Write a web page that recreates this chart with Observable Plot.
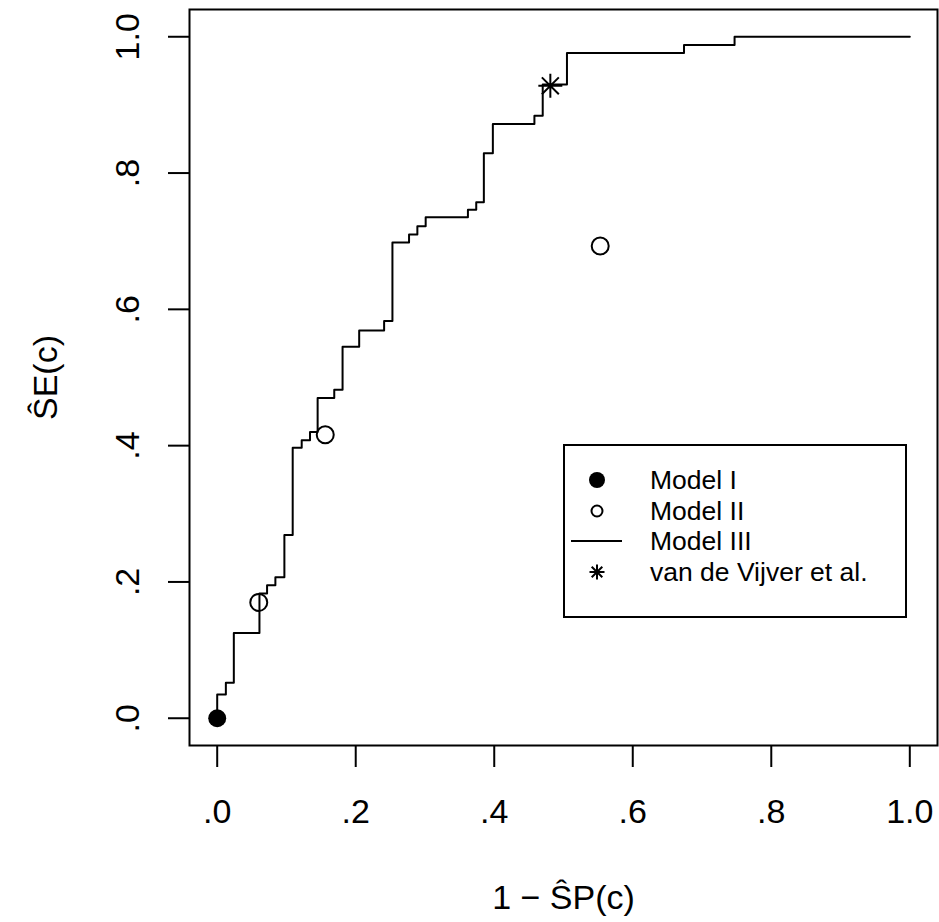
<!DOCTYPE html>
<html>
<head>
<meta charset="utf-8">
<script src="https://cdn.jsdelivr.net/npm/d3@7"></script>
<script src="https://cdn.jsdelivr.net/npm/@observablehq/plot@0.6"></script>
<style>
  html, body { margin: 0; padding: 0; background: #fff; }
  body { font-family: "Liberation Sans", Arial, Helvetica, sans-serif; }
  #wrap { position: relative; width: 939px; height: 922px; }
  #legend { position: absolute; left: 563px; top: 444px; width: 344px; height: 174px;
            box-sizing: border-box; border: 2px solid #000; background: #fff; }
  .lrow { position: absolute; left: 0; height: 30px; width: 340px; }
  .lrow svg { position: absolute; left: 0; top: 0; overflow: visible; }
  .lrow .lab { position: absolute; display: block; left: 85px; top: 0; height: 30px; line-height: 30px;
               font-size: 26.5px; color: #000; white-space: nowrap; overflow: visible; }
</style>
</head>
<body>
<div id="wrap"></div>
<script>
// ---- data ----
const rocFPR = [0, 0, 0.0125, 0.024, 0.061, 0.072, 0.084, 0.097, 0.109, 0.122, 0.134, 0.145, 0.169, 0.181, 0.205, 0.241, 0.253, 0.277, 0.289, 0.301, 0.362, 0.374, 0.385, 0.398, 0.458, 0.470, 0.505, 0.674, 0.747, 1.0];
const rocTPR = [0, 0.035, 0.052, 0.125, 0.183, 0.195, 0.207, 0.269, 0.397, 0.408, 0.420, 0.470, 0.482, 0.545, 0.569, 0.583, 0.698, 0.710, 0.722, 0.735, 0.746, 0.757, 0.829, 0.872, 0.884, 0.930, 0.976, 0.988, 1.0, 1.0];
const model1FPR = [0];
const model1TPR = [0];
const model2FPR = [0.060, 0.156, 0.553];
const model2TPR = [0.170, 0.416, 0.693];
const vdvFPR = [0.481];
const vdvTPR = [0.928];
const tickValues = [0, 0.2, 0.4, 0.6, 0.8, 1.0];
const tickLabels = [".0", ".2", ".4", ".6", ".8", "1.0"];
const legendLabels = ["Model I", "Model II", "Model III", "van de Vijver et al."];
const xTitle = "1 \u2212 \u015CP(c)";
const yTitle = "\u015CE(c)";

// ---- build tables ----
const roc = rocFPR.map((x, i) => ({x, y: rocTPR[i]}));
const m1 = model1FPR.map((x, i) => ({x, y: model1TPR[i]}));
const m2 = model2FPR.map((x, i) => ({x, y: model2TPR[i]}));
const vdv = vdvFPR.map((x, i) => ({x, y: vdvTPR[i]}));
const fmt = d => tickLabels[tickValues.findIndex(t => Math.abs(t - d) < 1e-9)];

// R pch 8 : "+" overlaid with "x"
const pch8 = {
  draw(ctx, size) {
    const r = Math.sqrt(size / Math.PI);
    const d = r * Math.SQRT1_2;
    ctx.moveTo(-r, 0); ctx.lineTo(r, 0);
    ctx.moveTo(0, -r); ctx.lineTo(0, r);
    ctx.moveTo(-d, -d); ctx.lineTo(d, d);
    ctx.moveTo(-d, d); ctx.lineTo(d, -d);
  }
};

const font = "Liberation Sans, Arial, Helvetica, sans-serif";
const chart = Plot.plot({
  width: 939,
  height: 922,
  marginLeft: 189,
  marginRight: 2,
  marginTop: 9,
  marginBottom: 177,
  style: {fontFamily: font, fontSize: "34px", background: "white", color: "black"},
  x: {domain: [-0.04, 1.04]},
  y: {domain: [-0.04, 1.04]},
  marks: [
    Plot.axisX({ticks: tickValues, tickFormat: fmt, tickSize: 22, tickPadding: 31, strokeWidth: 2,
      fontSize: 34, label: xTitle, labelAnchor: "center", labelOffset: 163, labelArrow: "none"}),
    Plot.axisY({ticks: tickValues, tickFormat: fmt, tickSize: 21, tickPadding: 30, tickRotate: -90, strokeWidth: 2,
      fontSize: 34, label: yTitle, labelAnchor: "center", labelOffset: 157, labelArrow: "none"}),
    Plot.line(roc, {x: "x", y: "y", curve: "step-after", stroke: "black", strokeWidth: 2}),
    Plot.dot(m1, {x: "x", y: "y", r: 9, fill: "black", stroke: "none"}),
    Plot.dot(m2, {x: "x", y: "y", r: 8.5, fill: "none", stroke: "black", strokeWidth: 2}),
    Plot.dot(vdv, {x: "x", y: "y", r: 12, symbol: pch8, fill: "none", stroke: "black", strokeWidth: 2}),
    Plot.frame({stroke: "black", strokeWidth: 2})
  ]
});
const wrap = document.getElementById("wrap");
wrap.appendChild(chart);

// ---- legend (inside plot area, lower right) ----
const legend = document.createElement("div");
legend.id = "legend";
wrap.appendChild(legend);
const rowCenters = [34, 64.5, 95, 125.5];
legendLabels.forEach((lab, i) => {
  const row = document.createElement("div");
  row.className = "lrow";
  row.style.top = (rowCenters[i] - 15) + "px";
  const svg = d3.create("svg").attr("width", 70).attr("height", 30);
  const g = svg.append("g").attr("transform", "translate(32,15)");
  if (i === 0) g.append("circle").attr("r", 8).attr("fill", "black");
  else if (i === 1) g.append("circle").attr("r", 5.5).attr("fill", "none").attr("stroke", "black").attr("stroke-width", 2);
  else if (i === 2) g.append("line").attr("x1", -26).attr("x2", 25).attr("stroke", "black").attr("stroke-width", 2);
  else g.append("path").attr("d", d3.symbol(pch8, Math.PI * 7.5 * 7.5)()).attr("fill", "none").attr("stroke", "black").attr("stroke-width", 2);
  row.appendChild(svg.node());
  const div = document.createElement("div");
  div.className = "lab";
  div.textContent = lab;
  row.appendChild(div);
  legend.appendChild(row);
});
</script>
</body>
</html>
